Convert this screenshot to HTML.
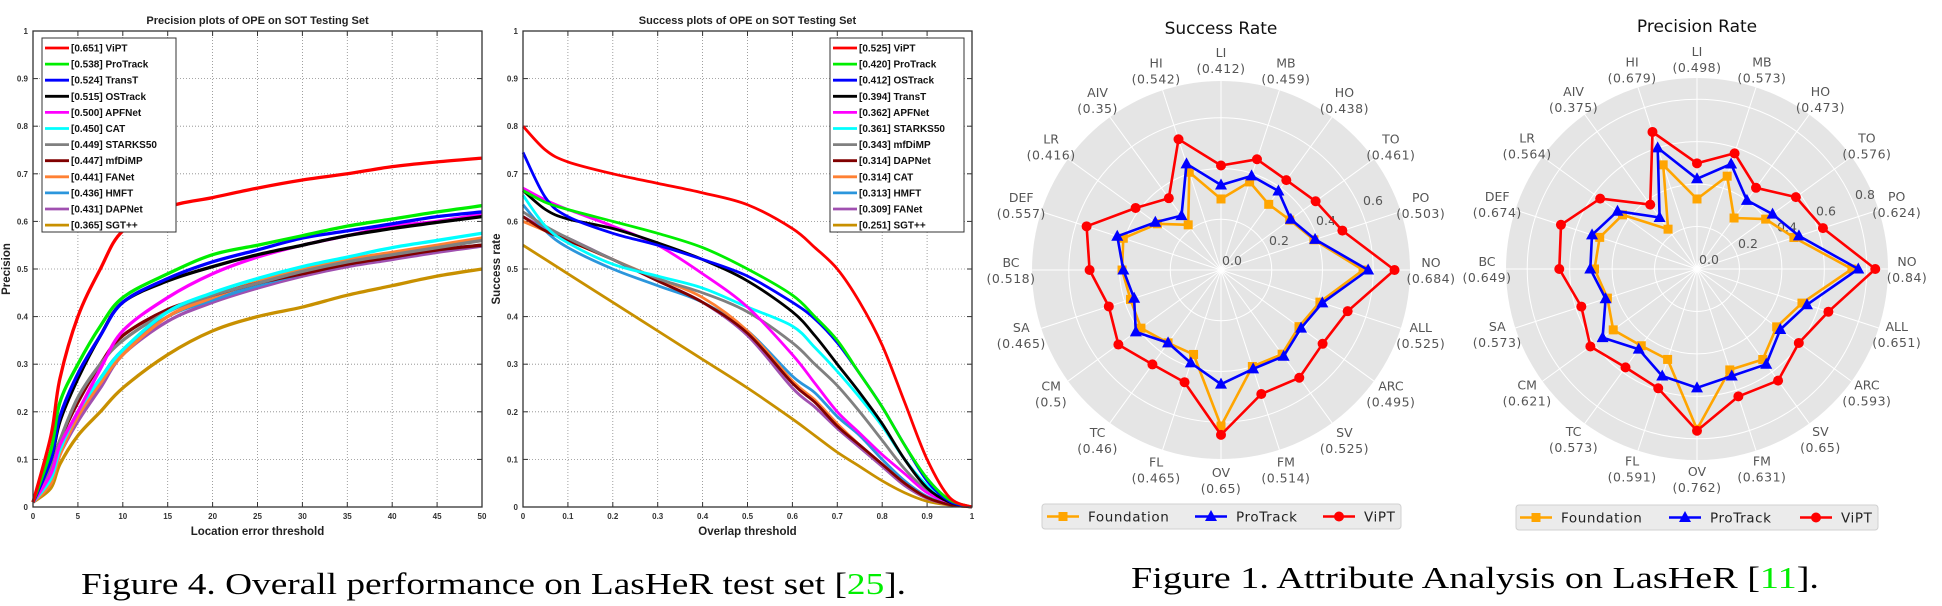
<!DOCTYPE html>
<html><head><meta charset="utf-8">
<style>
html,body{margin:0;padding:0;background:#fff;}
svg{display:block;}
.lt{font-family:"Liberation Sans",sans-serif;font-weight:bold;}
.mp{font-family:"DejaVu Sans","Liberation Sans",sans-serif;}
</style></head>
<body>
<svg id="fig" width="1942" height="606" viewBox="0 0 1942 606" xmlns="http://www.w3.org/2000/svg">
<text x="81" y="594" textLength="825" lengthAdjust="spacingAndGlyphs" font-family="Liberation Serif, serif" font-size="31" fill="#000">Figure 4. Overall performance on LasHeR test set [<tspan fill="#00ee00">25</tspan>].</text>
<text x="1131" y="588" textLength="688" lengthAdjust="spacingAndGlyphs" font-family="Liberation Serif, serif" font-size="31" fill="#000">Figure 1. Attribute Analysis on LasHeR [<tspan fill="#00ee00">11</tspan>].</text>
</svg>
<script>
// ---------- line chart data ----------
const rankColors = ["#ff0000","#00ee00","#0000ff","#000000","#ff00ff","#00ffff","#808080","#800000","#ff8033","#2b96dc","#a050b0","#c89000"];
const precNames = ["ViPT","ProTrack","TransT","OSTrack","APFNet","CAT","STARKS50","mfDiMP","FANet","HMFT","DAPNet","SGT++"];
const precScores = ["0.651","0.538","0.524","0.515","0.500","0.450","0.449","0.447","0.441","0.436","0.431","0.365"];
const precX = [0,2,3,5,7.5,10,15,20,25,30,35,40,45,50];
const precViPT = [0.01,0.15,0.27,0.40,0.50,0.58,0.63,0.65,0.67,0.687,0.70,0.715,0.725,0.733];
const precProTrack = [0.01,0.12,0.22,0.30,0.38,0.44,0.49,0.53,0.55,0.57,0.59,0.605,0.62,0.633];
const precTransT = [0.01,0.10,0.19,0.28,0.36,0.43,0.48,0.515,0.54,0.565,0.58,0.595,0.61,0.62];
const precOSTrack = [0.01,0.10,0.18,0.27,0.36,0.43,0.475,0.505,0.53,0.55,0.57,0.585,0.598,0.61];
const precAPFNet = [0.01,0.07,0.13,0.20,0.29,0.37,0.44,0.49,0.525,0.55,0.57,0.59,0.60,0.615];
const precCAT = [0.01,0.06,0.12,0.20,0.27,0.33,0.41,0.45,0.48,0.505,0.525,0.545,0.56,0.575];
const precSTARKS50 = [0.01,0.08,0.14,0.23,0.30,0.35,0.41,0.445,0.47,0.495,0.515,0.53,0.545,0.56];
const precMfDiMP = [0.01,0.08,0.14,0.22,0.30,0.36,0.415,0.445,0.47,0.49,0.51,0.525,0.54,0.55];
const precFANet = [0.01,0.05,0.11,0.19,0.26,0.32,0.40,0.44,0.475,0.50,0.52,0.535,0.55,0.565];
const precHMFT = [0.01,0.06,0.12,0.20,0.27,0.33,0.40,0.435,0.465,0.49,0.51,0.525,0.54,0.55];
const precDAPNet = [0.01,0.05,0.11,0.18,0.25,0.32,0.39,0.43,0.46,0.485,0.505,0.52,0.535,0.548];
const precSGT = [0.01,0.04,0.09,0.15,0.20,0.25,0.32,0.37,0.40,0.42,0.445,0.465,0.485,0.50];
const precSeries = [precViPT,precProTrack,precTransT,precOSTrack,precAPFNet,precCAT,precSTARKS50,precMfDiMP,precFANet,precHMFT,precDAPNet,precSGT];
const precXTicks = [0,5,10,15,20,25,30,35,40,45,50];
const yTicks = [0,0.1,0.2,0.3,0.4,0.5,0.6,0.7,0.8,0.9,1];
const yTickLabels = ["0","0.1","0.2","0.3","0.4","0.5","0.6","0.7","0.8","0.9","1"];

const succNames = ["ViPT","ProTrack","OSTrack","TransT","APFNet","STARKS50","mfDiMP","DAPNet","CAT","HMFT","FANet","SGT++"];
const succScores = ["0.525","0.420","0.412","0.394","0.362","0.361","0.343","0.314","0.314","0.313","0.309","0.251"];
const succX = [0,0.05,0.1,0.2,0.3,0.4,0.5,0.6,0.65,0.7,0.75,0.8,0.85,0.9,0.95,1];
const succViPT = [0.80,0.75,0.725,0.70,0.68,0.66,0.635,0.585,0.545,0.50,0.43,0.34,0.22,0.10,0.02,0.0];
const succProTrack = [0.665,0.64,0.625,0.60,0.575,0.545,0.50,0.445,0.40,0.35,0.28,0.21,0.13,0.06,0.015,0];
const succOSTrack = [0.745,0.65,0.61,0.575,0.55,0.52,0.485,0.43,0.395,0.345,0.28,0.21,0.13,0.055,0.012,0];
const succTransT = [0.665,0.625,0.605,0.585,0.555,0.52,0.475,0.41,0.36,0.30,0.24,0.175,0.10,0.04,0.01,0];
const succAPFNet = [0.67,0.645,0.625,0.59,0.55,0.49,0.42,0.32,0.26,0.20,0.155,0.11,0.07,0.03,0.01,0];
const succSTARKS50 = [0.655,0.59,0.555,0.51,0.485,0.46,0.42,0.38,0.335,0.285,0.23,0.17,0.10,0.045,0.012,0];
const succMfDiMP = [0.62,0.59,0.565,0.52,0.48,0.45,0.41,0.345,0.30,0.255,0.20,0.14,0.08,0.035,0.01,0];
const succDAPNet = [0.61,0.58,0.56,0.52,0.475,0.43,0.365,0.26,0.22,0.17,0.13,0.09,0.05,0.02,0.005,0];
const succCAT = [0.60,0.58,0.56,0.52,0.48,0.44,0.37,0.265,0.225,0.175,0.13,0.09,0.05,0.02,0.005,0];
const succHMFT = [0.635,0.58,0.545,0.50,0.465,0.43,0.37,0.275,0.24,0.19,0.15,0.10,0.055,0.022,0.006,0];
const succFANet = [0.61,0.585,0.565,0.52,0.475,0.43,0.36,0.25,0.21,0.165,0.125,0.085,0.045,0.018,0.005,0];
const succSGT = [0.55,0.52,0.49,0.43,0.37,0.31,0.25,0.185,0.15,0.115,0.085,0.055,0.03,0.012,0.004,0];
const succSeries = [succViPT,succProTrack,succOSTrack,succTransT,succAPFNet,succSTARKS50,succMfDiMP,succDAPNet,succCAT,succHMFT,succFANet,succSGT];
const succXTicks = [0,0.1,0.2,0.3,0.4,0.5,0.6,0.7,0.8,0.9,1];
const succXTickLabels = ["0","0.1","0.2","0.3","0.4","0.5","0.6","0.7","0.8","0.9","1"];

// ---------- radar data ----------
const attrs = ["LI","MB","HO","TO","PO","NO","ALL","ARC","SV","FM","OV","FL","TC","CM","SA","BC","DEF","LR","AIV","HI"];
const srViPT = [0.412,0.459,0.438,0.461,0.503,0.684,0.525,0.495,0.525,0.514,0.65,0.465,0.46,0.5,0.465,0.518,0.557,0.416,0.35,0.542];
const srProTrack = [0.335,0.39,0.385,0.34,0.39,0.58,0.42,0.39,0.42,0.41,0.45,0.385,0.355,0.415,0.36,0.385,0.43,0.32,0.265,0.44];
const srFoundation = [0.28,0.365,0.32,0.335,0.385,0.56,0.41,0.38,0.41,0.40,0.615,0.35,0.355,0.39,0.375,0.39,0.405,0.31,0.22,0.405];
const prViPT = [0.498,0.573,0.473,0.576,0.624,0.84,0.651,0.593,0.65,0.631,0.762,0.591,0.573,0.621,0.573,0.649,0.674,0.564,0.375,0.679];
const prProTrack = [0.425,0.52,0.40,0.44,0.505,0.76,0.545,0.485,0.555,0.53,0.56,0.53,0.467,0.55,0.453,0.503,0.52,0.463,0.30,0.60];
const prFoundation = [0.33,0.46,0.297,0.40,0.48,0.73,0.52,0.464,0.527,0.50,0.755,0.448,0.447,0.488,0.444,0.483,0.482,0.434,0.232,0.516];
const srTicks = [0.2,0.4,0.6];
const prTicks = [0.2,0.4,0.6,0.8];

const NS = "http://www.w3.org/2000/svg";
const svg = document.getElementById("fig");
function mk(tag, attrs, parent){
  const e = document.createElementNS(NS, tag);
  for (const k in attrs) e.setAttribute(k, attrs[k]);
  (parent||svg).appendChild(e);
  return e;
}
function smoothPath(pts){
  let d = "M" + pts[0][0].toFixed(2) + "," + pts[0][1].toFixed(2);
  for (let i=0;i<pts.length-1;i++){
    const p0 = pts[i-1]||pts[i], p1 = pts[i], p2 = pts[i+1], p3 = pts[i+2]||pts[i+1];
    const c1 = [p1[0]+(p2[0]-p0[0])/6, p1[1]+(p2[1]-p0[1])/6];
    const c2 = [p2[0]-(p3[0]-p1[0])/6, p2[1]-(p3[1]-p1[1])/6];
    d += " C"+c1[0].toFixed(2)+","+c1[1].toFixed(2)+" "+c2[0].toFixed(2)+","+c2[1].toFixed(2)+" "+p2[0].toFixed(2)+","+p2[1].toFixed(2);
  }
  return d;
}

function lineChart(cfg){
  const L=cfg.left,R=cfg.right,T=31,B=507;
  const sx = v => L + (v-cfg.xmin)/(cfg.xmax-cfg.xmin)*(R-L);
  const sy = v => B - v*(B-T);
  const g = mk("g",{});
  
  
  cfg.xTicks.forEach((t,i)=>{
    const x = sx(t);
    if (i>0 && i<cfg.xTicks.length-1){
      const gl = mk("line",{x1:x,y1:T,x2:x,y2:B,stroke:"#888","stroke-width":0.8,"stroke-dasharray":"1,2"},g);
      
      
    }
    const tk = mk("line",{x1:x,y1:B,x2:x,y2:B-5,stroke:"#333","stroke-width":1},g);
    
    
    mk("line",{x1:x,y1:T,x2:x,y2:T+5,stroke:"#333","stroke-width":1},g);
    const tl = mk("text",{x:x,y:B+12,"text-anchor":"middle","font-size":8,"class":"lt",fill:"#333"},g);
    tl.textContent = cfg.xTickLabels[i];
    
    
  });
  yTicks.forEach((t,i)=>{
    const y = sy(t);
    if (i>0 && i<yTicks.length-1){
      const gl = mk("line",{x1:L,y1:y,x2:R,y2:y,stroke:"#888","stroke-width":0.8,"stroke-dasharray":"1,2"},g);
      
      
    }
    mk("line",{x1:L,y1:y,x2:L+5,y2:y,stroke:"#333","stroke-width":1},g);
    mk("line",{x1:R,y1:y,x2:R-5,y2:y,stroke:"#333","stroke-width":1},g);
    const tl = mk("text",{x:L-5,y:y+3,"text-anchor":"end","font-size":8,"class":"lt",fill:"#333"},g);
    tl.textContent = yTickLabels[i];
    
    
  });
  for (let s=cfg.series.length-1;s>=0;s--){
    const pts = cfg.series[s].map((v,i)=>[sx(cfg.xs[i]), sy(v)]);
    const p = mk("path",{d:smoothPath(pts),fill:"none",stroke:rankColors[s],"stroke-width":cfg.lw,"stroke-linejoin":"round"},g);
    
    
  }
  const fr = mk("rect",{x:L,y:T,width:R-L,height:B-T,fill:"none",stroke:"#333","stroke-width":1.3},g);
  
  
  const ti = mk("text",{x:(L+R)/2,y:24,"text-anchor":"middle","font-size":11,"class":"lt",fill:"#222"},g);
  ti.textContent = cfg.title;
  
  
  const xt = mk("text",{x:(L+R)/2,y:535,"text-anchor":"middle","font-size":11.5,"class":"lt",fill:"#222"},g);
  xt.textContent = cfg.xTitle;
  
  
  const yt = mk("text",{x:0,y:0,"text-anchor":"middle","font-size":11.5,"class":"lt",fill:"#222",transform:"translate("+cfg.yTitleX+",269) rotate(-90)"},g);
  yt.textContent = cfg.yTitle;
  
  
  const lg = mk("g",{},g);
  
  
  mk("rect",{x:cfg.legX,y:38,width:cfg.legW,height:194,fill:"#fff",stroke:"#333","stroke-width":1},lg);
  cfg.names.forEach((n,i)=>{
    const y = 48 + i*16.1;
    const ln = mk("line",{x1:cfg.legX+3,y1:y,x2:cfg.legX+27,y2:y,stroke:rankColors[i],"stroke-width":2.8},lg);
    
    
    const tx = mk("text",{x:cfg.legX+29,y:y+3.5,"font-size":10,"class":"lt",fill:"#111"},lg);
    tx.textContent = "[" + cfg.scores[i] + "] " + n;
    
    
  });
}

lineChart({name:"precision-plot",left:33,right:482,xmin:0,xmax:50,xs:precX,series:precSeries,names:precNames,scores:precScores,
  xTicks:precXTicks,xTickLabels:precXTicks.map(String),title:"Precision plots of OPE on SOT Testing Set",
  xTitle:"Location error threshold",yTitle:"Precision",yTitleX:10,legX:42,legW:134,lw:3.3});
lineChart({name:"success-plot",left:523,right:972,xmin:0,xmax:1,xs:succX,series:succSeries,names:succNames,scores:succScores,
  xTicks:succXTicks,xTickLabels:succXTickLabels,title:"Success plots of OPE on SOT Testing Set",
  xTitle:"Overlap threshold",yTitle:"Success rate",yTitleX:500,legX:830,legW:134,lw:2.8});

// ---------- radar ----------
function radar(cfg){
  const cx=cfg.cx, cy=cfg.cy, R=cfg.R, vmax=cfg.vmax;
  const n = attrs.length;
  const pt = (v,i)=>{const a=i*2*Math.PI/n; const r=v/vmax*R; return [cx+r*Math.sin(a), cy-r*Math.cos(a)];};
  const g = mk("g",{"class":"mp"});
  
  
  const bg = mk("circle",{cx:cx,cy:cy,r:R,fill:"#e5e5e5"},g);
  
  
  cfg.ticks.forEach(t=>{
    const c = mk("circle",{cx:cx,cy:cy,r:t/vmax*R,fill:"none",stroke:"#fff","stroke-width":1},g);
    
    
  });
  for (let i=0;i<n;i++){
    const e = pt(vmax,i);
    const s = mk("line",{x1:cx,y1:cy,x2:e[0],y2:e[1],stroke:"#fff","stroke-width":1},g);
    
    
  }
  [0].concat(cfg.ticks).forEach(t=>{
    const tl = mk("text",{x:cx+cfg.tk0[0]+t*cfg.tkStep[0],y:cy+cfg.tk0[1]+t*cfg.tkStep[1]+4,"text-anchor":"middle","font-size":12.5,fill:"#555"},g);
    tl.textContent = t.toFixed(1);
    
    
  });
  attrs.forEach((a,i)=>{
    const ang=i*2*Math.PI/n;
    const lx = cx + cfg.LR*Math.sin(ang), ly = cy - cfg.LR*Math.cos(ang);
    const t1 = mk("text",{x:lx,y:ly-3,"text-anchor":"middle","font-size":12.5,fill:"#555"},g);
    t1.textContent = a;
    
    
    const t2 = mk("text",{x:lx,y:ly+13,"text-anchor":"middle","font-size":12.5,fill:"#555","letter-spacing":"0.5"},g);
    t2.textContent = "(" + String(cfg.vipt[i]) + ")";
    
    
  });
  const series = [[cfg.foundation,"#ffa500","square","foundation"],[cfg.protrack,"#0000ff","tri","protrack"],[cfg.vipt,"#ff0000","circ","vipt"]];
  series.forEach(([vals,col,mkType,nm])=>{
    const pts = vals.map((v,i)=>pt(v,i));
    const poly = mk("polygon",{points:pts.map(p=>p[0].toFixed(1)+","+p[1].toFixed(1)).join(" "),fill:"none",stroke:col,"stroke-width":2.6,"stroke-linejoin":"round"},g);
    
    
    pts.forEach(p=>{
      let m;
      if (mkType==="circ") m = mk("circle",{cx:p[0],cy:p[1],r:5,fill:col},g);
      else if (mkType==="square") m = mk("rect",{x:p[0]-4.5,y:p[1]-4.5,width:9,height:9,fill:col},g);
      else m = mk("polygon",{points:(p[0])+","+(p[1]-6.5)+" "+(p[0]-6)+","+(p[1]+4.5)+" "+(p[0]+6)+","+(p[1]+4.5),fill:col},g);
      
      
    });
  });
  const ti = mk("text",{x:cx,y:cfg.titleY,"text-anchor":"middle","font-size":17,fill:"#111"},g);
  ti.textContent = cfg.title;
  
  
  const lg = mk("g",{},g);
  
  
  mk("rect",{x:cfg.leg[0],y:cfg.leg[1],width:cfg.leg[2],height:25,rx:3,fill:"#ebebeb",stroke:"#d0d0d0","stroke-width":1},lg);
  const ly = cfg.leg[1]+12.5;
  const entries = [["Foundation","#ffa500","square"],["ProTrack","#0000ff","tri"],["ViPT","#ff0000","circ"]];
  entries.forEach(([lab,col,mt],k)=>{
    const x0 = cfg.legX[k];
    mk("line",{x1:x0,y1:ly,x2:x0+32,y2:ly,stroke:col,"stroke-width":2.6},lg);
    const m = x0+16;
    if (mt==="circ") mk("circle",{cx:m,cy:ly,r:5,fill:col},lg);
    else if (mt==="square") mk("rect",{x:m-4.5,y:ly-4.5,width:9,height:9,fill:col},lg);
    else mk("polygon",{points:m+","+(ly-6.5)+" "+(m-6)+","+(ly+4.5)+" "+(m+6)+","+(ly+4.5),fill:col},lg);
    const tx = mk("text",{x:x0+41,y:ly+5,"font-size":13.5,fill:"#222","letter-spacing":"0.6"},lg);
    tx.textContent = lab;
    
    
  });
}

radar({name:"success-rate-radar",cx:1221,cy:270,R:189,vmax:0.745,LR:210,ticks:srTicks,vipt:srViPT,protrack:srProTrack,foundation:srFoundation,
  tk0:[11,-9],tkStep:[235,-100],title:"Success Rate",titleY:34,leg:[1042,504,359],legX:[1047,1195,1323]});
radar({name:"precision-rate-radar",cx:1697,cy:269,R:191,vmax:0.9,LR:210,ticks:prTicks,vipt:prViPT,protrack:prProTrack,foundation:prFoundation,
  tk0:[12,-9],tkStep:[195,-81],title:"Precision Rate",titleY:32,leg:[1516,505,362],legX:[1520,1669,1800]});
</script>
</body></html>
